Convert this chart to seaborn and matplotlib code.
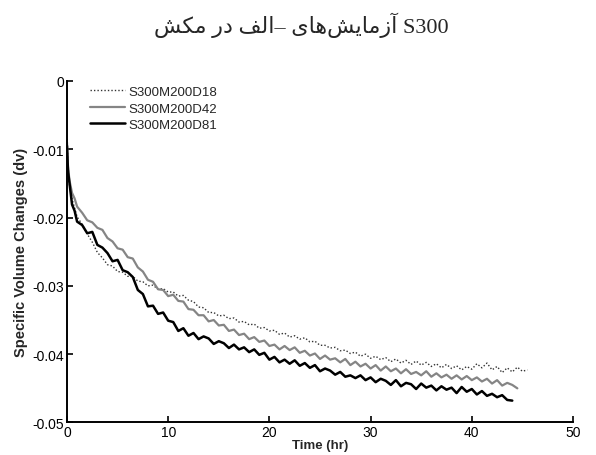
import numpy as np
import pandas as pd
import matplotlib
matplotlib.use("Agg")
import matplotlib.pyplot as plt
import seaborn as sns

# data
time_hr = [0, 0.1, 0.25, 0.5, 0.75,
           1.0, 1.5, 2.0, 2.5, 3.0, 3.5, 4.0, 4.5, 5.0, 5.5, 6.0, 6.5, 7.0, 7.5, 8.0, 8.5,
           9.0, 9.5, 10.0, 10.5, 11.0, 11.5, 12.0, 12.5, 13.0, 13.5, 14.0, 14.5, 15.0, 15.5,
           16.0, 16.5, 17.0, 17.5, 18.0, 18.5, 19.0, 19.5, 20.0, 20.5, 21.0, 21.5, 22.0, 22.5,
           23.0, 23.5, 24.0, 24.5, 25.0, 25.5, 26.0, 26.5, 27.0, 27.5, 28.0, 28.5, 29.0, 29.5,
           30.0, 30.5, 31.0, 31.5, 32.0, 32.5, 33.0, 33.5, 34.0, 34.5, 35.0, 35.5, 36.0, 36.5,
           37.0, 37.5, 38.0, 38.5, 39.0, 39.5, 40.0, 40.5, 41.0, 41.5, 42.0, 42.5, 43.0, 43.5,
           44.0, 44.5, 45.0, 45.5]

dv_d18 = [-0.0085, -0.0120, -0.0153, -0.0173, -0.0186,
          -0.0199, -0.0210, -0.0224, -0.0236, -0.0251, -0.0259, -0.0269, -0.0271, -0.0279, -0.0280,
          -0.0286, -0.0286, -0.0293, -0.0294, -0.0300, -0.0299, -0.0305, -0.0304, -0.0309, -0.0309,
          -0.0315, -0.0314, -0.0321, -0.0323, -0.0331, -0.0332, -0.0339, -0.0339, -0.0344, -0.0343,
          -0.0348, -0.0347, -0.0353, -0.0352, -0.0357, -0.0356, -0.0362, -0.0361, -0.0366, -0.0365,
          -0.0371, -0.0369, -0.0375, -0.0373, -0.0378, -0.0376, -0.0382, -0.0381, -0.0387, -0.0387,
          -0.0391, -0.0390, -0.0395, -0.0394, -0.0399, -0.0397, -0.0403, -0.0400, -0.0406, -0.0403,
          -0.0408, -0.0405, -0.0411, -0.0407, -0.0413, -0.0409, -0.0415, -0.0410, -0.0416, -0.0412,
          -0.0418, -0.0414, -0.0420, -0.0415, -0.0421, -0.0417, -0.0423, -0.0418, -0.0422, -0.0414,
          -0.0420, -0.0413, -0.0423, -0.0418, -0.0427, -0.0420, -0.0426, -0.0419, -0.0425, -0.0423]

dv_d42 = [-0.0090, -0.0126, -0.0146, -0.0164, -0.0172,
          -0.0184, -0.0193, -0.0204, -0.0207, -0.0215, -0.0218, -0.0230, -0.0235, -0.0245, -0.0247,
          -0.0258, -0.0260, -0.0273, -0.0279, -0.0291, -0.0294, -0.0305, -0.0306, -0.0315, -0.0313,
          -0.0322, -0.0323, -0.0334, -0.0335, -0.0343, -0.0343, -0.0352, -0.0350, -0.0358, -0.0357,
          -0.0366, -0.0364, -0.0372, -0.0370, -0.0378, -0.0375, -0.0382, -0.0380, -0.0388, -0.0386,
          -0.0393, -0.0388, -0.0394, -0.0390, -0.0398, -0.0395, -0.0402, -0.0399, -0.0407, -0.0402,
          -0.0408, -0.0406, -0.0412, -0.0407, -0.0416, -0.0411, -0.0418, -0.0414, -0.0421, -0.0416,
          -0.0424, -0.0418, -0.0425, -0.0421, -0.0428, -0.0422, -0.0429, -0.0426, -0.0431, -0.0425,
          -0.0433, -0.0428, -0.0434, -0.0430, -0.0436, -0.0431, -0.0437, -0.0432, -0.0438, -0.0434,
          -0.0440, -0.0436, -0.0443, -0.0438, -0.0446, -0.0442, -0.0445, -0.0450]

dv_d81 = [-0.0095, -0.0132, -0.0150, -0.0181, -0.0190,
          -0.0206, -0.0211, -0.0223, -0.0221, -0.0240, -0.0244, -0.0252, -0.0264, -0.0262, -0.0277,
          -0.0280, -0.0287, -0.0306, -0.0312, -0.0330, -0.0329, -0.0341, -0.0339, -0.0351, -0.0353,
          -0.0366, -0.0362, -0.0373, -0.0369, -0.0378, -0.0374, -0.0377, -0.0385, -0.0381, -0.0384,
          -0.0391, -0.0386, -0.0393, -0.0390, -0.0397, -0.0393, -0.0401, -0.0398, -0.0408, -0.0404,
          -0.0412, -0.0408, -0.0414, -0.0409, -0.0417, -0.0413, -0.0420, -0.0416, -0.0425, -0.0421,
          -0.0424, -0.0430, -0.0426, -0.0433, -0.0431, -0.0435, -0.0431, -0.0438, -0.0434, -0.0441,
          -0.0436, -0.0439, -0.0445, -0.0438, -0.0447, -0.0442, -0.0444, -0.0451, -0.0443, -0.0449,
          -0.0446, -0.0453, -0.0447, -0.0452, -0.0449, -0.0457, -0.0448, -0.0455, -0.0451, -0.0459,
          -0.0454, -0.0461, -0.0458, -0.0463, -0.0460, -0.0467, -0.0468]

series_names = ["S300M200D18", "S300M200D42", "S300M200D81"]
x_ticks = [0, 10, 20, 30, 40, 50]
y_ticks = [0, -0.01, -0.02, -0.03, -0.04, -0.05]
y_tick_labels = ["0", "-0.01", "-0.02", "-0.03", "-0.04", "-0.05"]

# title words, left to right as they appear on the picture
title_words = ["مکش", "در", "الف–", "آزمایش\u200cهای", "S300"]

# Arabic presentation forms (isolated, final, initial, medial) for the letters used
FORMS = {
    'ا': ('\uFE8D', '\uFE8E', None, None),
    'آ': ('\uFE81', '\uFE82', None, None),
    'د': ('\uFEA9', '\uFEAA', None, None),
    'ر': ('\uFEAD', '\uFEAE', None, None),
    'ز': ('\uFEAF', '\uFEB0', None, None),
    'م': ('\uFEE1', '\uFEE2', '\uFEE3', '\uFEE4'),
    'ش': ('\uFEB5', '\uFEB6', '\uFEB7', '\uFEB8'),
    'ل': ('\uFEDD', '\uFEDE', '\uFEDF', '\uFEE0'),
    'ف': ('\uFED1', '\uFED2', '\uFED3', '\uFED4'),
    'ه': ('\uFEE9', '\uFEEA', '\uFEEB', '\uFEEC'),
    'ک': ('\uFB8E', '\uFB8F', '\uFB90', '\uFB91'),
    'ی': ('\uFBFC', '\uFBFD', '\uFBFE', '\uFBFF'),
}


def shape_word(word):
    # join letters and flip them so they read right to left on screen
    out = []
    tail = ''
    for i, ch in enumerate(word):
        if ch == '\u200c':
            continue
        if ch not in FORMS:
            if ch in '–-':
                tail += ch
            else:
                out.append(ch)
            continue
        prev = word[i - 1] if i > 0 else ''
        nxt = word[i + 1] if i + 1 < len(word) else ''
        jp = prev in FORMS and FORMS[prev][2] is not None
        jn = nxt in FORMS and FORMS[ch][2] is not None
        iso, fin, ini, med = FORMS[ch]
        if jp and jn:
            out.append(med)
        elif jp:
            out.append(fin)
        elif jn:
            out.append(ini)
        else:
            out.append(iso)
    return ''.join(reversed(out)) + tail


title_text = " ".join(w if w.isascii() else shape_word(w) for w in title_words)

sns.set_style("ticks")
plt.rcParams['font.family'] = ['Liberation Sans', 'DejaVu Sans']
plt.rcParams['axes.unicode_minus'] = False

fig = plt.figure(figsize=(5.96, 4.56), dpi=100)
ax = fig.add_axes([0.1124, 0.0713, 0.849, 0.749])

df18 = pd.DataFrame({"t": time_hr[:len(dv_d18)], "dv": dv_d18})
df42 = pd.DataFrame({"t": time_hr[:len(dv_d42)], "dv": dv_d42})
df81 = pd.DataFrame({"t": time_hr[:len(dv_d81)], "dv": dv_d81})

sns.lineplot(data=df18, x="t", y="dv", ax=ax, color="#333333", linestyle=(0, (1, 1.5)),
             linewidth=1.0, label=series_names[0], estimator=None)
sns.lineplot(data=df42, x="t", y="dv", ax=ax, color="#858585", linewidth=1.6,
             label=series_names[1], estimator=None)
sns.lineplot(data=df81, x="t", y="dv", ax=ax, color="black", linewidth=1.8,
             label=series_names[2], estimator=None)

ax.set_xlim(0, 50)
ax.set_ylim(-0.05, 0)
ax.set_xticks(x_ticks)
ax.set_xticklabels([str(v) for v in x_ticks])
ax.set_yticks(y_ticks)
ax.set_yticklabels(y_tick_labels)
ax.tick_params(direction='in', length=4, width=1.2, labelsize=10, colors='black', pad=2)
for s in ["left", "bottom"]:
    ax.spines[s].set_linewidth(1.4)
    ax.spines[s].set_color("black")
sns.despine(ax=ax)

ax.set_xlabel("Time (hr)", fontsize=9.5, fontweight="bold", labelpad=0)
ax.set_ylabel("Specific Volume Changes (dv)", fontsize=10.5, fontweight="bold", labelpad=3)

leg = ax.legend(loc="upper left", bbox_to_anchor=(0.0245, 1.017), frameon=False, fontsize=9.5,
                handlelength=2.65, handletextpad=0.25, labelspacing=0.33, borderpad=0.3)

fig.text(0.505, 0.945, title_text, ha="center", va="center", fontsize=16,
         family=['Liberation Serif', 'DejaVu Sans'])

fig.savefig("out.png", dpi=100)
